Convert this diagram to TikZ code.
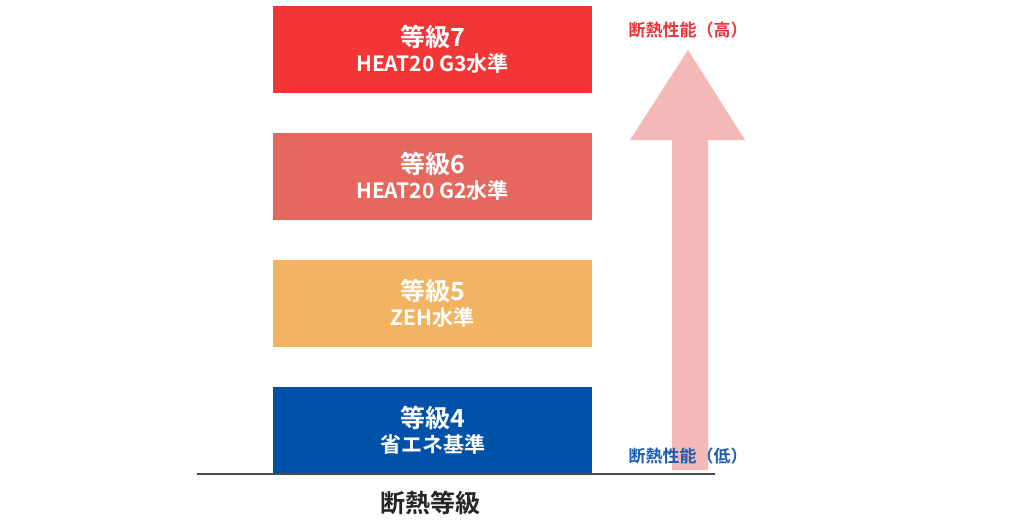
\documentclass[tikz,border=0pt]{standalone}
\usepackage{fontspec}
\setmainfont{Noto Sans CJK JP}[BoldFont={* Bold}]
\definecolor{c7}{HTML}{F43535}
\definecolor{c6}{HTML}{E5675D}
\definecolor{c5}{HTML}{F2B363}
\definecolor{c4}{HTML}{0051AA}
\definecolor{arr}{HTML}{F4B9B6}
\definecolor{lred}{HTML}{E8353A}
\definecolor{lblue}{HTML}{1A5DB0}
\newcommand{\lvtxt}[2]{{\fontsize{25}{30}\selectfont #1}\\[4pt]{\fontsize{21}{25}\selectfont #2}}
\begin{document}
\begin{tikzpicture}[x=1pt,y=-1pt,
  lvl/.style={minimum width=319pt,minimum height=87pt,inner sep=0pt,text=white,font=\bfseries,align=center},
  side/.style={font=\bfseries\fontsize{17}{20}\selectfont}]
\useasboundingbox (0,0) rectangle (1024,525);
\fill[white] (0,0) rectangle (1024,525);
\node[lvl,fill=c7] (b7) at (432.5,49) {\lvtxt{等級7}{HEAT20 G3水準}};
\node[lvl,fill=c6] (b6) at (432.5,176.5) {\lvtxt{等級6}{HEAT20 G2水準}};
\node[lvl,fill=c5] (b5) at (432.5,303.5) {\lvtxt{等級5}{ZEH水準}};
\node[lvl,fill=c4] (b4) at (432.5,430.5) {\lvtxt{等級4}{省エネ基準}};
\coordinate (l1) at (197,474);
\coordinate (l2) at (715,474);
\draw[line width=2pt,black!70] (l1) -- (l2);
\node[font=\bfseries\fontsize{25}{30}\selectfont,text=black!85] (t) at (430,503) {断熱等級};
\fill[arr] (672,470) -- (672,140) -- (630,140) -- (688,50) -- (745,140) -- (708,140) -- (708,470) -- cycle;
\node[side,text=lred] (hi) at (688,30) {断熱性能（高）};
\node[side,text=lblue] (lo) at (688,456) {断熱性能（低）};
\end{tikzpicture}
\end{document}
